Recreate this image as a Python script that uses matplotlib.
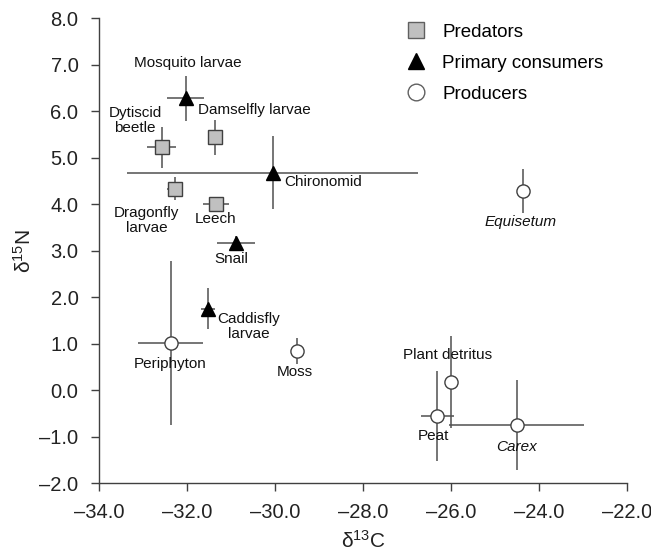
import matplotlib
matplotlib.use("Agg")
import matplotlib.pyplot as plt
from matplotlib.lines import Line2D

plt.rcParams['font.family'] = ['Liberation Sans', 'DejaVu Sans']
plt.rcParams['mathtext.fontset'] = 'custom'
plt.rcParams['mathtext.rm'] = 'Liberation Sans'
plt.rcParams['mathtext.it'] = 'Liberation Sans:italic'
plt.rcParams['mathtext.default'] = 'regular'

# ---- data ----
names = ["Mosquito larvae", "Dytiscid\nbeetle", "Damselfly larvae", "Chironomid",
         "Dragonfly\nlarvae", "Leech", "Snail", "Caddisfly\nlarvae",
         "Periphyton", "Moss", "Equisetum", "Plant detritus", "Peat", "Carex"]
groups = ["prim", "pred", "pred", "prim", "pred", "pred", "prim", "prim",
          "prod", "prod", "prod", "prod", "prod", "prod"]
d13C = [-32.03, -32.58, -31.37, -30.06, -32.28, -31.35, -30.89, -31.52,
        -32.37, -29.51, -24.36, -26.01, -26.31, -24.51]
d15N = [6.28, 5.23, 5.44, 4.68, 4.34, 4.00, 3.16, 1.76,
        1.02, 0.85, 4.29, 0.18, -0.55, -0.75]
xerr = [0.42, 0.33, 0.0, 3.32, 0.18, 0.30, 0.44, 0.16,
        0.74, 0.0, 0.0, 0.0, 0.38, 1.53]
yerr = [0.49, 0.44, 0.37, 0.78, 0.25, 0.0, 0.15, 0.44,
        1.77, 0.28, 0.47, 0.98, 0.97, 0.97]
italic = [False]*10 + [True, False, False, True]

# label anchor points (data units), ha
label_pos = [(-31.98, 7.03, 'center'), (-33.19, 5.81, 'center'), (-30.47, 6.03, 'center'),
             (-29.80, 4.47, 'left'), (-32.92, 3.66, 'center'), (-31.35, 3.68, 'center'),
             (-30.99, 2.82, 'center'), (-30.61, 1.37, 'center'), (-32.38, 0.56, 'center'),
             (-29.55, 0.39, 'center'), (-24.42, 3.61, 'center'), (-26.08, 0.77, 'center'),
             (-26.41, -0.98, 'center'), (-24.50, -1.21, 'center')]

legend_labels = ["Predators", "Primary consumers", "Producers"]
xticks = [-34.0, -32.0, -30.0, -28.0, -26.0, -24.0, -22.0]
yticks = [-2.0, -1.0, 0.0, 1.0, 2.0, 3.0, 4.0, 5.0, 6.0, 7.0, 8.0]

styles = {
    "pred": dict(marker='s', mfc='#c0c0c0', mec='#404040', ms=9.5),
    "prim": dict(marker='^', mfc='black', mec='black', ms=10),
    "prod": dict(marker='o', mfc='white', mec='#404040', ms=9.5),
}

fig = plt.figure(figsize=(6.51, 5.55), dpi=100)
ax = fig.add_axes([0.1525, 0.129, 0.8105, 0.838])

ecol = '#505050'
for i in range(len(names)):
    ax.errorbar(d13C[i], d15N[i],
                xerr=xerr[i] if xerr[i] > 0 else None,
                yerr=yerr[i] if yerr[i] > 0 else None,
                fmt='none', ecolor=ecol, elinewidth=1.1, capsize=0, zorder=2)
    st = styles[groups[i]]
    ax.plot(d13C[i], d15N[i], linestyle='none', marker=st['marker'],
            markerfacecolor=st['mfc'], markeredgecolor=st['mec'],
            markersize=st['ms'], markeredgewidth=1.0, zorder=3)
    lx, ly, ha = label_pos[i]
    ax.text(lx, ly, names[i], ha=ha, va='center', fontsize=11,
            style='italic' if italic[i] else 'normal', color='#111111',
            linespacing=1.1, zorder=4)

ax.set_xlim(-34, -22)
ax.set_ylim(-2, 8)
ax.set_xticks(xticks)
ax.set_yticks(yticks)
ax.set_xticklabels([f"{t:.1f}".replace('-', '\u2013') for t in xticks])
ax.set_yticklabels([f"{t:.1f}".replace('-', '\u2013') for t in yticks])
ax.tick_params(axis='both', labelsize=14.5, length=5.5, width=1.0, color='#404040',
               direction='out', labelcolor='#222222')
ax.tick_params(axis='y', pad=9.5)
ax.tick_params(axis='x', pad=8.5)
for s in ['top', 'right']:
    ax.spines[s].set_visible(False)
for s in ['left', 'bottom']:
    ax.spines[s].set_color('#404040')
    ax.spines[s].set_linewidth(1.0)

ax.set_xlabel('δ$^{13}$C', fontsize=15, color='#222222', labelpad=6)
ax.set_ylabel('δ$^{15}$N', fontsize=15, color='#222222', labelpad=3)

handles = [
    Line2D([], [], linestyle='none', marker='s', markerfacecolor='#c0c0c0',
           markeredgecolor='#606060', markersize=12),
    Line2D([], [], linestyle='none', marker='^', markerfacecolor='black',
           markeredgecolor='black', markersize=12),
    Line2D([], [], linestyle='none', marker='o', markerfacecolor='white',
           markeredgecolor='#606060', markersize=12),
]
ax.legend(handles, legend_labels, loc='upper left', bbox_to_anchor=(0.565, 1.005),
          frameon=False, fontsize=13.5, handlelength=1.2, handletextpad=0.8,
          labelspacing=0.75, borderaxespad=0.0)

fig.savefig('out.png', dpi=100)
